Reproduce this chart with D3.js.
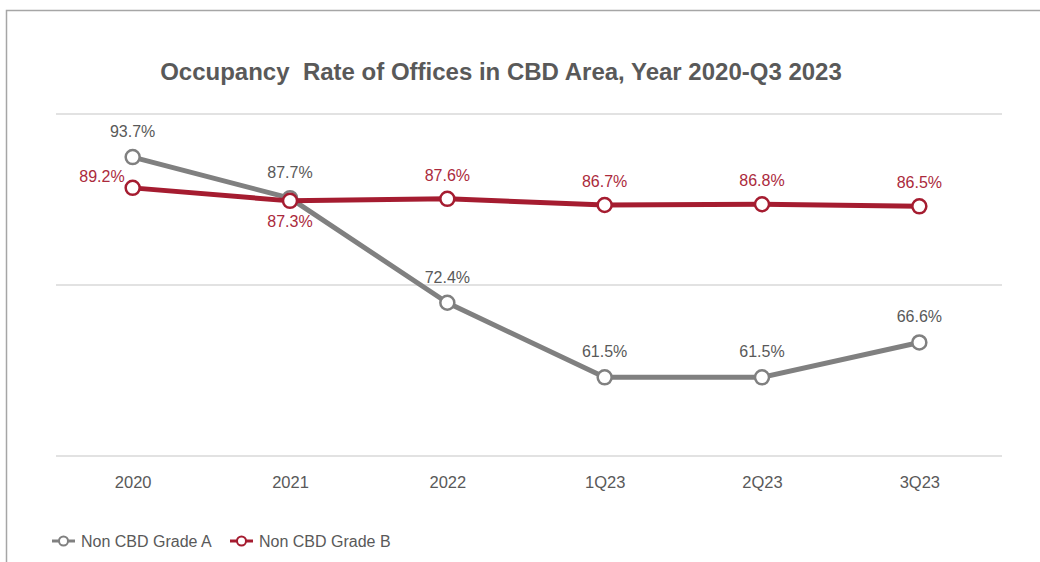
<!DOCTYPE html>
<html>
<head>
<meta charset="utf-8">
<script src="https://cdn.jsdelivr.net/npm/d3@7/dist/d3.min.js"></script>
<style>
  html, body { margin: 0; padding: 0; background: #ffffff; }
  svg { display: block; font-family: "Liberation Sans", Arial, sans-serif; }
</style>
</head>
<body>
<svg id="chart" width="1040" height="562"></svg>
<script>
// Occupancy rates (%) by period
const categories = ["2020", "2021", "2022", "1Q23", "2Q23", "3Q23"];
const gradeA = [93.7, 87.7, 72.4, 61.5, 61.5, 66.6];
const gradeB = [89.2, 87.3, 87.6, 86.7, 86.8, 86.5];
const yTicks = [50, 75, 100];
const seriesNames = ["Non CBD Grade A", "Non CBD Grade B"];

const W = 1040, H = 562;
const svg = d3.select("#chart");

const grey = "#808080", red = "#a51c30";
const textGrey = "#595959", textRed = "#ab2a3c";

// outer frame
svg.append("rect")
  .attr("x", 6.5).attr("y", 10.5)
  .attr("width", W + 20).attr("height", H + 20)
  .attr("fill", "none").attr("stroke", "#a6a6a6").attr("stroke-width", 1.5);

// title
svg.append("text")
  .attr("x", 501).attr("y", 80)
  .attr("text-anchor", "middle")
  .attr("font-size", 24).attr("font-weight", "bold")
  .attr("fill", textGrey)
  .text("Occupancy\u00a0 Rate of Offices in CBD Area, Year 2020-Q3 2023");

const x = d3.scalePoint().domain(categories).range([54, 998]).padding(0.5);
const y = d3.scaleLinear().domain([50, 100]).range([456, 114]);

// gridlines
svg.append("g").selectAll("line").data(yTicks).join("line")
  .attr("x1", 56).attr("x2", 1002)
  .attr("y1", d => y(d)).attr("y2", d => y(d))
  .attr("stroke", "#d9d9d9").attr("stroke-width", 1.3);

// category axis
const xAxis = svg.append("g")
  .attr("transform", "translate(0,456)")
  .call(d3.axisBottom(x).tickSize(0).tickPadding(20));
xAxis.select(".domain").remove();
xAxis.selectAll("text")
  .attr("font-size", 16.5).attr("fill", textGrey)
  .attr("font-family", "'Liberation Sans', Arial, sans-serif");

const line = d3.line().x((d, i) => x(categories[i])).y(d => y(d));

function drawSeries(values, color) {
  const g = svg.append("g");
  g.append("path").datum(values)
    .attr("d", line)
    .attr("fill", "none").attr("stroke", color)
    .attr("stroke-width", 5).attr("stroke-linejoin", "round");
  g.selectAll("circle").data(values).join("circle")
    .attr("cx", (d, i) => x(categories[i])).attr("cy", d => y(d))
    .attr("r", 7).attr("fill", "#ffffff")
    .attr("stroke", color).attr("stroke-width", 2.5);
  return g;
}

drawSeries(gradeA, grey);
drawSeries(gradeB, red);

const fmt = d => d.toFixed(1) + "%";

// Grade A labels sit above their points
svg.append("g").selectAll("text").data(gradeA).join("text")
  .attr("x", (d, i) => x(categories[i]))
  .attr("y", d => y(d) - 20)
  .attr("text-anchor", "middle")
  .attr("font-size", 16).attr("fill", textGrey)
  .text(fmt);

// Grade B labels: left of the first point, below where Grade A crosses, above elsewhere
svg.append("g").selectAll("text").data(gradeB).join("text")
  .attr("x", (d, i) => i === 0 ? x(categories[i]) - 8 : x(categories[i]))
  .attr("y", (d, i) => {
    if (i === 0) return y(d) - 6;
    if (Math.abs(y(gradeA[i]) - y(d)) < 20) return y(d) + 26;
    return y(d) - 18;
  })
  .attr("text-anchor", (d, i) => i === 0 ? "end" : "middle")
  .attr("font-size", 16).attr("fill", textRed)
  .text(fmt);

// legend
const legend = svg.append("g");
const legendItems = [
  { name: seriesNames[0], color: grey, x0: 52 },
  { name: seriesNames[1], color: red, x0: 230 }
];
legendItems.forEach(item => {
  const g = legend.append("g").attr("transform", `translate(${item.x0},541)`);
  g.append("line").attr("x1", 0).attr("x2", 23).attr("y1", 0).attr("y2", 0)
    .attr("stroke", item.color).attr("stroke-width", 3);
  g.append("circle").attr("cx", 11.5).attr("cy", 0).attr("r", 4.5)
    .attr("fill", "#ffffff").attr("stroke", item.color).attr("stroke-width", 2);
  g.append("text").attr("x", 29).attr("y", 5.5)
    .attr("font-size", 16).attr("fill", textGrey)
    .text(item.name);
});
</script>
</body>
</html>
